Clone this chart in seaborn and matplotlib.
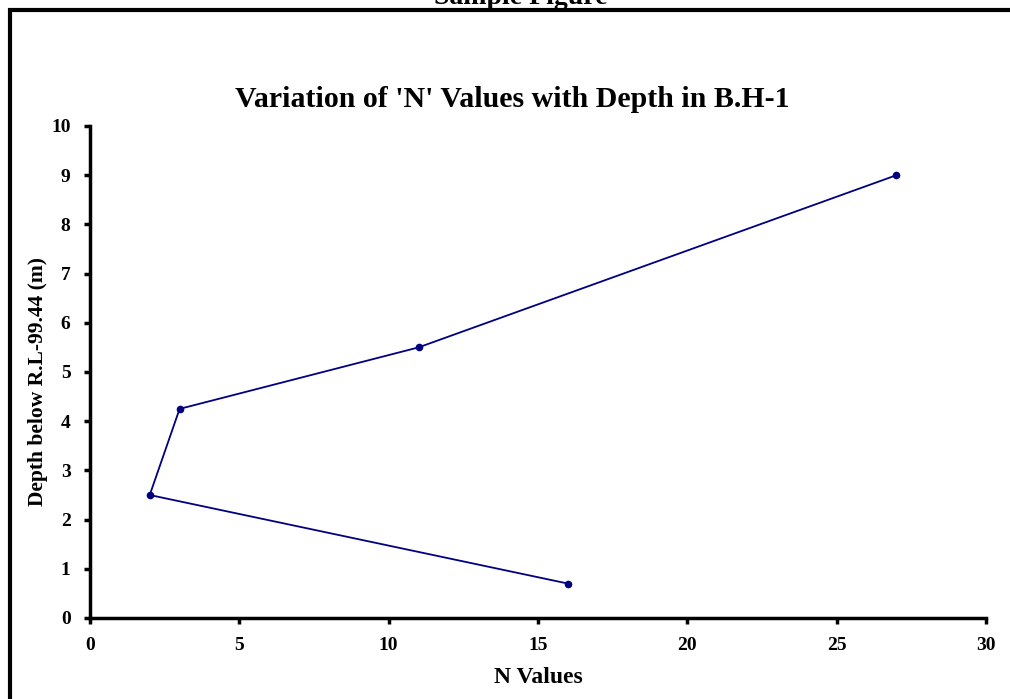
import pandas as pd
import matplotlib
matplotlib.use('Agg')
import matplotlib.pyplot as plt
import matplotlib.patches as patches
import seaborn as sns

# SPT readings for the borehole
n_values = [16, 2, 3, 11, 27]
depths = [0.7, 2.5, 4.25, 5.5, 9.0]
x_ticks = [0, 5, 10, 15, 20, 25, 30]
y_ticks = [0, 1, 2, 3, 4, 5, 6, 7, 8, 9, 10]

df = pd.DataFrame({'N': n_values, 'Depth': depths})

sns.set_style('white')
plt.rcParams['font.family'] = ['Liberation Serif', 'DejaVu Serif']
plt.rcParams['font.weight'] = 'bold'
plt.rcParams['text.color'] = 'black'

fig = plt.figure(figsize=(10.1, 6.99), dpi=100)
ax = fig.add_axes([90 / 1010, 1 - 618 / 699, 896 / 1010, 492 / 699])

sns.lineplot(data=df, x='N', y='Depth', sort=False, estimator=None,
             color='#000080', linewidth=1.3, marker='o', markersize=5.5,
             markeredgewidth=0, ax=ax)

ax.set(xlim=(0, 30), ylim=(0, 10))
ax.set_xticks(x_ticks)
ax.set_yticks(y_ticks)
ax.set_xlabel('N Values', fontsize=17, fontweight='bold', labelpad=9, color='black')
ax.set_ylabel('Depth below R.L-99.44 (m)', fontsize=15.5, fontweight='bold',
              labelpad=2, color='black')
ax.yaxis.label.set_y(0.48)
ax.set_title("Variation of 'N' Values with Depth in B.H-1", fontsize=21.5,
             fontweight='bold', pad=14, color='black', x=0.471)

for side in ['top', 'right']:
    ax.spines[side].set_visible(False)
for side in ['left', 'bottom']:
    ax.spines[side].set_linewidth(2.5)
    ax.spines[side].set_color('black')
ax.tick_params(direction='out', length=4, width=2.5, labelsize=14, pad=10,
               left=True, bottom=True, colors='black')
for lab in ax.get_xticklabels() + ax.get_yticklabels():
    lab.set_fontweight('bold')

# outer frame and clipped page title
frame = patches.Rectangle((10 / 1010, -0.05), 1.1, 1 - 9.5 / 699 + 0.05,
                          transform=fig.transFigure, fill=False,
                          edgecolor='black', linewidth=3, clip_on=False)
fig.patches.append(frame)
fig.text(521 / 1010, 1 - 4 / 699, 'Sample Figure', ha='center', va='baseline',
         fontsize=20, fontweight='bold')

fig.savefig('out.png', dpi=100)
